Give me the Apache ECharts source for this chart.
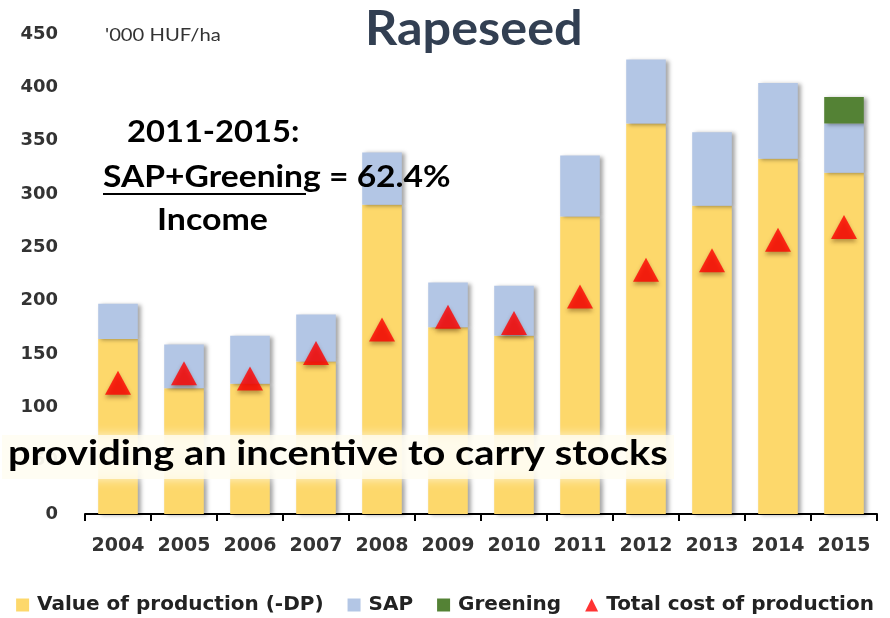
<!DOCTYPE html>
<html>
<head>
<meta charset="utf-8">
<script src="https://cdn.jsdelivr.net/npm/echarts@6/dist/echarts.min.js"></script>
<style>
html, body { margin: 0; padding: 0; background: #fff; }
#chart { width: 890px; height: 618px; }
</style>
</head>
<body>
<div id="chart"></div>
<script>
// 年份
var years = ['2004', '2005', '2006', '2007', '2008', '2009', '2010', '2011', '2012', '2013', '2014', '2015'];
// 产值 (-DP)
var prodValue = [164, 118, 122, 143, 290, 175, 167, 279, 366, 289, 333, 320];
// SAP
var sapValue = [33, 41, 45, 44, 49, 42, 47, 57, 60, 69, 71, 46];
// Greening, only 2015
var greenValue = ['-', '-', '-', '-', '-', '-', '-', '-', '-', '-', '-', 25];
// 总成本
var costValue = [123, 132, 127, 151, 173, 185, 179, 204, 229, 238, 257, 269];
var yTicks = [0, 450, 50];

var myChart = echarts.init(document.getElementById('chart'));
var barShadow = {
    shadowColor: 'rgba(0,0,0,0.35)',
    shadowBlur: 4,
    shadowOffsetX: 3,
    shadowOffsetY: 1
};
var legendText = { fontFamily: 'DejaVu Sans', fontWeight: 'bold', fontSize: 20, color: '#222', padding: [0, 0, 0, 3] };
var option = {
    backgroundColor: '#fff',
    animation: false,
    grid: { left: 85, right: 13, top: 34, bottom: 104 },
    legend: {
        bottom: -2,
        left: 'center',
        itemGap: 24,
        itemWidth: 13,
        itemHeight: 13,
        textStyle: legendText,
        data: [
            { name: 'Value of production (-DP)', icon: 'rect' },
            { name: 'SAP', icon: 'rect' },
            { name: 'Greening', icon: 'rect' },
            { name: 'Total cost of production', icon: 'triangle' }
        ]
    },
    xAxis: {
        type: 'category',
        data: years,
        axisLine: { lineStyle: { color: '#000', width: 2 } },
        axisTick: { show: true, length: 7, lineStyle: { color: '#000', width: 2 } },
        axisLabel: { interval: 0, margin: 23, fontFamily: 'DejaVu Sans', fontWeight: 'bold', fontSize: 19, color: '#333' }
    },
    yAxis: {
        type: 'value',
        min: yTicks[0],
        max: yTicks[1],
        interval: yTicks[2],
        axisLine: { show: false },
        axisTick: { show: false },
        splitLine: { show: false },
        axisLabel: { margin: 27, fontFamily: 'DejaVu Sans', fontWeight: 'bold', fontSize: 18, color: '#333' }
    },
    series: [{
        name: 'Value of production (-DP)',
        type: 'bar',
        stack: 'income',
        barWidth: '60%',
        data: prodValue,
        itemStyle: Object.assign({ color: '#fdd86b' }, barShadow)
    }, {
        name: 'SAP',
        type: 'bar',
        stack: 'income',
        data: sapValue,
        itemStyle: Object.assign({ color: '#b3c6e5' }, barShadow)
    }, {
        name: 'Greening',
        type: 'bar',
        stack: 'income',
        data: greenValue,
        itemStyle: Object.assign({ color: '#548235' }, barShadow)
    }, {
        name: 'Total cost of production',
        type: 'scatter',
        symbol: 'triangle',
        symbolSize: [26, 24],
        data: costValue,
        z: 5,
        itemStyle: {
            color: '#ff0000',
            shadowColor: 'rgba(80,40,0,0.5)',
            shadowBlur: 4,
            shadowOffsetY: 3
        }
    }],
    graphic: [{
        type: 'text', x: 365, y: 6, scaleX: 1.05, z: 10,
        style: { text: 'Rapeseed', font: 'bold 48px Lato', fill: '#323f52' }
    }, {
        type: 'text', x: 105, y: 27, scaleX: 1.19, z: 10,
        style: { text: "'000 HUF/ha", font: '17px Lato', fill: '#333' }
    }, {
        type: 'text', x: 127, y: 117, scaleX: 1.09, z: 10,
        style: { text: '2011-2015:', font: 'bold 30px Lato', fill: '#000' }
    }, {
        type: 'text', x: 103, y: 162, scaleX: 1.12, z: 10,
        style: { text: 'SAP+Greening = 62.4%', font: 'bold 30px Lato', fill: '#000' }
    }, {
        type: 'line', z: 10,
        shape: { x1: 103, y1: 194, x2: 306, y2: 194 },
        style: { stroke: '#000', lineWidth: 2 }
    }, {
        type: 'text', x: 157, y: 205, scaleX: 1.13, z: 10,
        style: { text: 'Income', font: 'bold 30px Lato', fill: '#000' }
    }, {
        type: 'rect', z: 9,
        shape: { x: 2, y: 435, width: 672, height: 44 },
        style: { fill: 'rgba(255,252,240,0.8)', shadowColor: 'rgba(255,255,255,0.9)', shadowBlur: 10 }
    }, {
        type: 'text', x: 8, y: 437, scaleX: 1.17, z: 10,
        style: { text: 'providing an incentive to carry stocks', font: 'bold 34px Lato', fill: '#000' }
    }]
};
myChart.setOption(option);
</script>
</body>
</html>
